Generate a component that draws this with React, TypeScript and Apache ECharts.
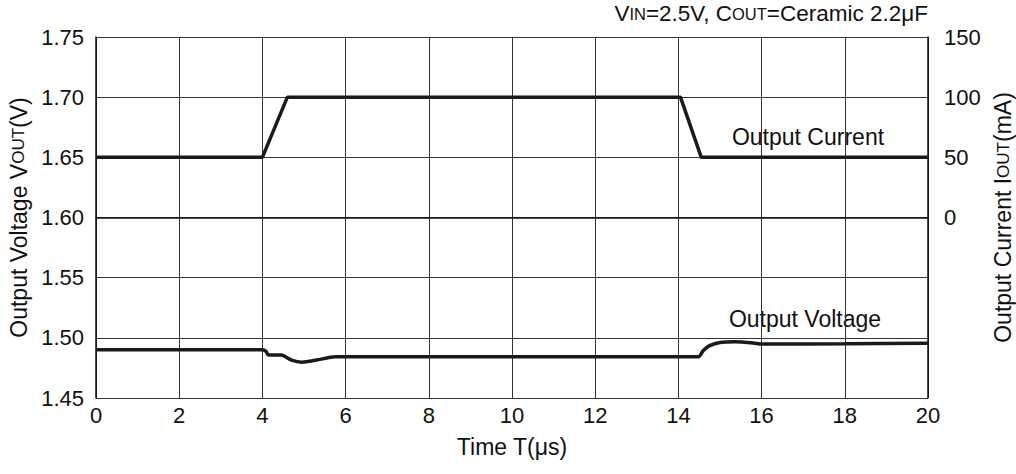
import React, { useEffect, useRef } from "react";
import * as echarts from "echarts";

const xTicks = [0, 2, 4, 6, 8, 10, 12, 14, 16, 18, 20];
const voltageX = [0, 4.0, 4.08, 4.15, 4.45, 4.7, 4.95, 5.3, 5.75, 14.48, 14.6, 14.75, 15.0, 15.35, 15.8, 16.0, 18.0, 20.0];
const voltageY = [1.49, 1.49, 1.489, 1.4857, 1.4857, 1.4815, 1.4798, 1.4815, 1.4843, 1.4843, 1.4895, 1.4935, 1.4962, 1.4968, 1.4958, 1.4948, 1.495, 1.4955];
const currentX = [0, 4.0, 4.6, 14.05, 14.55, 20];
const currentY = [50, 50, 100, 100, 50, 50];

const FONT = "'Liberation Sans', Arial, Helvetica, sans-serif";
const FS = 22;
const NFS = 23;
const SFS = 17;

export default function App() {
  const ref = useRef<HTMLDivElement>(null);
  useEffect(() => {
    if (!ref.current) return;
    const chart = echarts.init(ref.current, undefined, { renderer: "svg" });
    const lineColor = "#1a1a1a";
    const gridColor = "#333";
    const richName = {
      a: { fontSize: NFS, color: "#111", fontFamily: FONT, fontWeight: "normal" },
      s: { fontSize: SFS, color: "#111", fontFamily: FONT, fontWeight: "normal" },
    };
    chart.setOption({
      animation: false,
      backgroundColor: "#fff",
      textStyle: { fontFamily: FONT },
      title: {
        text: "{a|V}{s|IN}{a|=2.5V, C}{s|OUT}{a|=Ceramic 2.2μF}",
        right: 88,
        top: 2,
        padding: 0,
        textStyle: {
          fontWeight: "normal",
          rich: {
            a: { fontSize: 22.5, color: "#111", fontFamily: FONT, fontWeight: "normal" },
            s: { fontSize: 16.5, color: "#111", fontFamily: FONT, fontWeight: "normal" },
          },
        },
      },
      grid: { left: 96, top: 37, right: 88, bottom: 76, containLabel: false, outerBoundsMode: "none" },
      xAxis: {
        type: "value",
        min: 0,
        max: 20,
        interval: 2,
        name: "Time T(μs)",
        nameLocation: "middle",
        nameGap: 37,
        nameTextStyle: { fontSize: NFS, color: "#111", fontFamily: FONT },
        axisLine: { show: true, lineStyle: { color: "#111", width: 1.5 } },
        axisTick: { show: false },
        axisLabel: { fontSize: FS, color: "#111", margin: 6, fontFamily: FONT, formatter: (v: number) => (xTicks.includes(v) ? String(v) : "") },
        splitLine: { show: true, lineStyle: { color: gridColor, width: 1 } },
      },
      yAxis: [
        {
          type: "value",
          min: 1.45,
          max: 1.75,
          interval: 0.05,
          name: "{a|Output Voltage V}{s|OUT}{a|(V)}",
          nameLocation: "middle",
          nameRotate: 90,
          nameGap: 64,
          nameTextStyle: { rich: richName },
          axisLine: { show: true, lineStyle: { color: "#111", width: 1.5 } },
          axisTick: { show: false },
          axisLabel: { fontSize: FS, color: "#111", margin: 12, fontFamily: FONT, formatter: (v: number) => v.toFixed(2) },
          splitLine: { show: true, lineStyle: { color: gridColor, width: 1 } },
        },
        {
          type: "value",
          min: -150,
          max: 150,
          interval: 50,
          name: "{a|Output Current I}{s|OUT}{a|(mA)}",
          nameLocation: "middle",
          nameRotate: 90,
          nameGap: 61,
          nameTextStyle: { rich: richName },
          axisLine: { show: true, lineStyle: { color: "#111", width: 1.5 } },
          axisTick: { show: false },
          axisLabel: { fontSize: FS, color: "#111", margin: 16, fontFamily: FONT, formatter: (v: number) => (v >= 0 ? String(v) : "") },
          splitLine: { show: false },
        },
      ],
      graphic: [
        {
          type: "text",
          x: 808,
          y: 137,
          style: { text: "Output Current", fontSize: NFS, fill: "#111", fontFamily: FONT, align: "center", verticalAlign: "middle" },
        },
        {
          type: "text",
          x: 805,
          y: 319,
          style: { text: "Output Voltage", fontSize: NFS, fill: "#111", fontFamily: FONT, align: "center", verticalAlign: "middle" },
        },
      ],
      series: [
        {
          type: "line",
          yAxisIndex: 1,
          data: currentX.map((x, i) => [x, currentY[i]]),
          showSymbol: false,
          lineStyle: { color: lineColor, width: 3.5 },
          z: 5,
        },
        {
          type: "line",
          yAxisIndex: 0,
          data: voltageX.map((x, i) => [x, voltageY[i]]),
          showSymbol: false,
          smooth: 0.25,
          lineStyle: { color: lineColor, width: 3.5 },
          z: 5,
        },
      ],
    });
    return () => chart.dispose();
  }, []);
  return <div ref={ref} style={{ position: "fixed", left: 0, top: 0, width: 1016, height: 474 }} />;
}
